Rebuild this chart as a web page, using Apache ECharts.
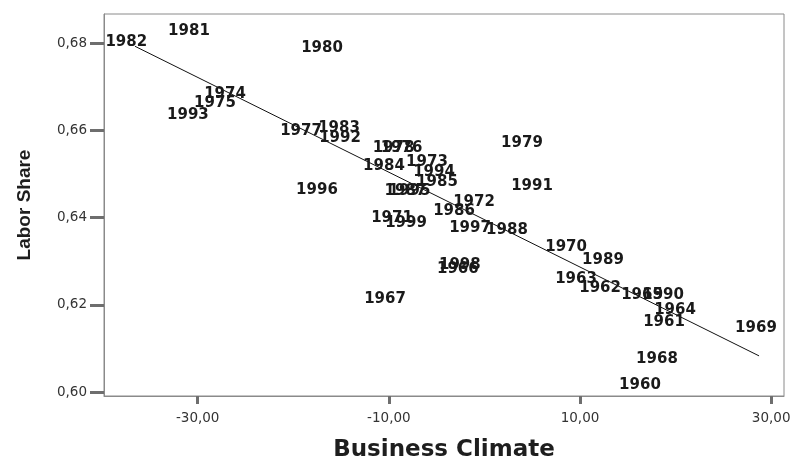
<!DOCTYPE html>
<html>
<head>
<meta charset="utf-8">
<script src="https://cdn.jsdelivr.net/npm/echarts@6/dist/echarts.min.js"></script>
<style>
  html, body { margin: 0; padding: 0; background: #fff; }
  #chart { width: 791px; height: 457px; }
</style>
</head>
<body>
<div id="chart"></div>
<script>
// Year labels, business climate (x) and labor share (y)
const years = [
  '1960','1961','1962','1963','1964','1965','1966','1967','1968','1969',
  '1970','1971','1972','1973','1974','1975','1976','1977','1978','1979',
  '1980','1981','1982','1983','1984','1985','1986','1987','1988','1989',
  '1990','1991','1992','1993','1994','1995','1996','1997','1998','1999'
];
const climate = [
  16.27, 18.79, 12.10, 9.58, 19.94, 16.49, -2.78, -10.40, 18.05, 28.41,
  8.54, -9.67, -1.09, -6.01, -27.14, -28.19, -8.67, -19.19, -9.51, 3.93,
  -16.99, -30.91, -37.47, -15.21, -10.51, -4.96, -3.18, -8.26, 2.36, 12.40,
  18.69, 4.98, -15.11, -31.02, -5.27, -7.84, -17.52, -1.51, -2.57, -8.20
];
const laborShare = [
  0.6016, 0.6161, 0.6239, 0.6259, 0.6188, 0.6223, 0.6283, 0.6213, 0.6076, 0.6147,
  0.6333, 0.6399, 0.6436, 0.6527, 0.6684, 0.6663, 0.6560, 0.6598, 0.6560, 0.6571,
  0.6788, 0.6828, 0.6803, 0.6605, 0.6518, 0.6482, 0.6415, 0.6461, 0.6372, 0.6303,
  0.6223, 0.6472, 0.6582, 0.6635, 0.6505, 0.6461, 0.6463, 0.6376, 0.6292, 0.6388
];

// Fitted regression line end points
const fitX = [-36.56, 28.73];
const fitY = [0.6793, 0.6083];

// Tick values
const xTicks = [-30, -10, 10, 30];
const yTicks = [0.60, 0.62, 0.64, 0.66, 0.68];

const comma = v => v.toFixed(2).replace('.', ',');

const chart = echarts.init(document.getElementById('chart'), null, { renderer: 'canvas' });

chart.setOption({
  animation: false,
  backgroundColor: '#fff',
  grid: {
    left: 104, right: 7, top: 14, bottom: 61,
    outerBoundsMode: 'none',
    containLabel: false,
    show: true, borderColor: '#8a8a8a', borderWidth: 1, backgroundColor: 'transparent'
  },
  xAxis: {
    type: 'value',
    min: -39.8, max: 31.34,
    name: 'Business Climate',
    nameLocation: 'middle',
    nameGap: 43,
    nameTextStyle: { fontFamily: 'DejaVu Sans', fontWeight: 'bold', fontSize: 23, color: '#1e1e1e' },
    axisLine: { show: true, onZero: false, lineStyle: { color: '#8a8a8a', width: 1 } },
    axisTick: { show: true, customValues: xTicks, length: 8, lineStyle: { color: '#6e6e6e', width: 3 } },
    axisLabel: {
      customValues: xTicks, formatter: comma, margin: 15,
      fontFamily: 'DejaVu Sans', fontSize: 13.5, color: '#333'
    },
    splitLine: { show: false }
  },
  yAxis: {
    type: 'value',
    min: 0.5991, max: 0.6867,
    name: 'Labor Share',
    nameLocation: 'middle',
    nameGap: 70,
    nameRotate: 90,
    nameTextStyle: { fontFamily: 'Liberation Sans', fontWeight: 'bold', fontSize: 19, color: '#1e1e1e' },
    axisLine: { show: true, onZero: false, lineStyle: { color: '#8a8a8a', width: 1 } },
    axisTick: { show: true, customValues: yTicks, length: 14, lineStyle: { color: '#6e6e6e', width: 3 } },
    axisLabel: {
      customValues: yTicks, formatter: comma, margin: 17,
      fontFamily: 'DejaVu Sans', fontSize: 13.5, color: '#333'
    },
    splitLine: { show: false }
  },
  series: [
    {
      type: 'line',
      data: fitX.map((x, i) => [x, fitY[i]]),
      showSymbol: false,
      symbol: 'none',
      lineStyle: { color: '#111', width: 1 },
      silent: true,
      z: 1
    },
    {
      type: 'scatter',
      data: years.map((y, i) => ({ name: y, value: [climate[i], laborShare[i]] })),
      symbolSize: 1,
      itemStyle: { color: 'rgba(0,0,0,0)', opacity: 1 },
      label: {
        show: true,
        position: 'inside',
        formatter: p => p.name,
        fontFamily: 'DejaVu Sans',
        fontWeight: 'bold',
        fontSize: 15,
        color: '#1a1a1a',
        opacity: 1,
        textBorderWidth: 0,
        textBorderColor: 'transparent'
      },
      labelLayout: { hideOverlap: false },
      z: 2
    }
  ]
});
</script>
</body>
</html>
